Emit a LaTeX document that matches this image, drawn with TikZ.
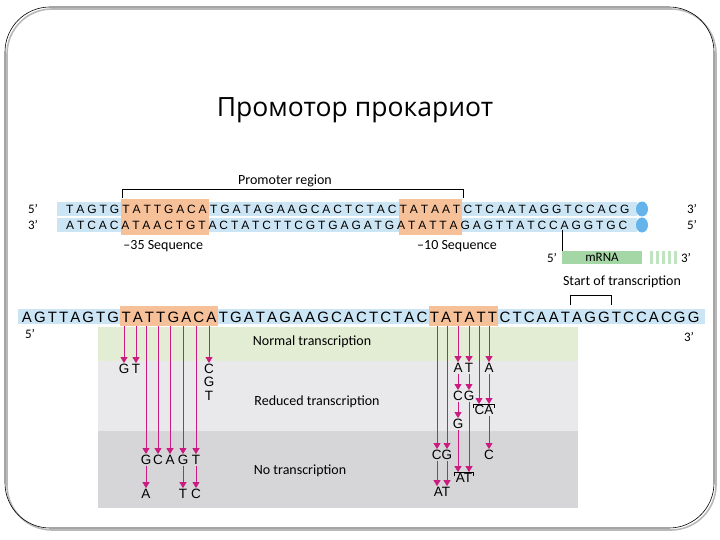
\documentclass[tikz,border=0pt]{standalone}
\usepackage{fontspec}
\setmainfont{Carlito}
\newfontfamily\dnafont{Liberation Sans}
\newfontfamily\headfont{Open Sans}
\usetikzlibrary{positioning,arrows.meta,backgrounds}

\definecolor{dnablue}{RGB}{203,229,245}
\definecolor{capblue}{RGB}{100,180,235}
\definecolor{hitorange}{RGB}{246,192,152}
\definecolor{mrnagreen}{RGB}{165,214,165}
\definecolor{stripgreen}{RGB}{192,228,192}
\definecolor{panelgreen}{RGB}{226,237,212}
\definecolor{panellight}{RGB}{233,233,235}
\definecolor{paneldark}{RGB}{214,214,216}
\definecolor{mutpink}{RGB}{204,27,128}

\newlength\seqgap
\def\seqloop#1{\ifx#1\relax\else#1\kern\seqgap\expandafter\seqloop\fi}
\newcommand\dnaseq[1]{\seqloop#1\relax}

\begin{document}
\begin{tikzpicture}[x=1pt,y=-1pt,
  strandtop/.style={font=\dnafont\fontsize{12}{14}\selectfont,inner sep=0pt,
                    anchor=base west,execute at begin node=\setlength\seqgap{2.9pt}},
  strandlow/.style={font=\dnafont\fontsize{15}{17}\selectfont,inner sep=0pt,
                    anchor=base west,execute at begin node=\setlength\seqgap{2.1pt}},
  lab/.style={font=\fontsize{14}{16}\selectfont,inner sep=1pt},
  prime/.style={font=\fontsize{13}{15}\selectfont,inner sep=1pt},
  nt/.style={font=\dnafont\fontsize{13.5}{15}\selectfont,inner sep=1pt},
  mut/.style={draw=mutpink,line width=0.8pt,-{Triangle[width=7pt,length=6pt]}},
  brk/.style={draw=black,line width=0.6pt},
]
  \useasboundingbox (0,0) rectangle (720,540);
  \draw[gray!55,line width=1.6pt,rounded corners=45pt] (7,9) rectangle (716,530);
  \draw[line width=0.6pt,rounded corners=45pt] (5,7) rectangle (714,528);

  \node[font=\headfont\fontsize{26.5}{30}\selectfont,anchor=base] (title) at (355,117) {Промотор прокариот};

  \node[strandtop] (s1a) at (66,213.3) {\dnaseq{TAGTG}};
  \node[strandtop] (s1b) at (s1a.base east) {\dnaseq{TATTGACA}};
  \node[strandtop] (s1c) at (s1b.base east) {\dnaseq{TGATAGAAGCACTCTAC}};
  \node[strandtop] (s1d) at (s1c.base east) {\dnaseq{TATAAT}};
  \node[strandtop] (s1e) at (s1d.base east) {\dnaseq{CTCAATAGGTCCACG}};
  \node[strandtop] (s2) at (66,229.3) {\dnaseq{ATCACATAACTGTACTATCTTCGTGAGATGATATTAGAGTTATCCAGGTGC}};

  \node[strandlow] (s3a) at (21.7,322.4) {\dnaseq{AGTTAGTG}};
  \node[strandlow] (s3b) at (s3a.base east) {\dnaseq{TATTGACA}};
  \node[strandlow] (s3c) at (s3b.base east) {\dnaseq{TGATAGAAGCACTCTAC}};
  \node[strandlow] (s3d) at (s3c.base east) {\dnaseq{TATATT}};
  \node[strandlow] (s3e) at (s3d.base east) {\dnaseq{CTCAATAGGTCCACGG}};

  \coordinate (hitup) at (0,199);
  \coordinate (hitdn) at (0,235);
  \coordinate (lowup) at (0,306);
  \coordinate (lowdn) at (0,326);
  \begin{scope}[on background layer]
    \fill[dnablue] (57,202) rectangle (637,216);
    \fill[dnablue] (57,218) rectangle (637,232);
    \fill[dnablue] (18,309) rectangle (705,324);
    \fill[hitorange] ([xshift=-1pt]s1b.west |- hitup) rectangle ([xshift=-1pt]s1b.east |- hitdn);
    \fill[hitorange] ([xshift=-1pt]s1d.west |- hitup) rectangle ([xshift=-1pt]s1d.east |- hitdn);
    \fill[hitorange] ([xshift=-1pt]s3b.west |- lowup) rectangle ([xshift=-1pt]s3b.east |- lowdn);
    \fill[hitorange] ([xshift=-1pt]s3d.west |- lowup) rectangle ([xshift=-1pt]s3d.east |- lowdn);
    \fill[capblue] (642,209) ellipse [x radius=6,y radius=7.5];
    \fill[capblue] (642,225) ellipse [x radius=6,y radius=7.5];
    \fill[panelgreen] (98,327) rectangle (578,361);
    \fill[panellight] (98,361) rectangle (578,431);
    \fill[paneldark] (98,431) rectangle (578,508);
  \end{scope}

  \node[prime] (p1) at (33,209) {5'};
  \node[prime] (p2) at (33,225) {3'};
  \node[prime] (p3) at (692,209) {3'};
  \node[prime] (p4) at (692,225) {5'};
  \node[prime] (p5) at (30,334) {5'};
  \node[prime] (p6) at (689,337) {3'};

  \coordinate (promy) at (0,189);
  \coordinate (promt) at (0,198);
  \draw[brk] (s1b.west |- promt) -- (s1b.west |- promy) -- (s1d.east |- promy) -- (s1d.east |- promt);
  \node[lab] (prom) at (285,181) {Promoter region};
  \node[lab,anchor=west] (m35) at (s1b.west |- 0,246) {--35 Sequence};
  \node[lab,anchor=west] (m10) at (416,246) {--10 Sequence};

  \node[fill=mrnagreen,minimum width=80pt,minimum height=13pt,inner sep=0pt,
        font=\fontsize{13}{15}\selectfont] (mrna) at (602,257.5) {mRNA};
  \foreach \x in {650,656,662,668,674}
    \fill[stripgreen] (\x,251) rectangle ++(3,13);
  \node[prime] (p7) at (552,257.5) {5'};
  \node[prime] (p8) at (686,257.5) {3'};
  \draw[brk] (mrna.north west) -- (mrna.north west |- s2.south);
  \node[lab] (start) at (622,282) {Start of transcription};
  \draw[brk] (570,305) |- (611,295) -- (611,305);

  \node[lab] (normal) at (312,342) {Normal transcription};
  \node[lab] (reduced) at (317,402) {Reduced transcription};
  \node[lab] (none) at (300,471) {No transcription};

  \foreach \x [count=\i] in {124,136,146,158,170,183,196,209}
    \coordinate (L\i) at (\x,326);
  \foreach \x [count=\i] in {437,447,458,469,479,489}
    \coordinate (R\i) at (\x,326);

  \node[nt] (g1) at (124,369) {G};
  \node[nt] (t1) at (136,369) {T};
  \node[nt] (c1) at (209,369) {C};
  \node[nt] (g2) at (209,382) {G};
  \node[nt] (t2) at (209,396) {T};
  \node[nt] (g3) at (146,460) {G};
  \node[nt] (c2) at (158,460) {C};
  \node[nt] (a1) at (170,460) {A};
  \node[nt] (g4) at (183,460) {G};
  \node[nt] (t3) at (196,460) {T};
  \node[nt] (a2) at (146,494) {A};
  \node[nt] (t4) at (183,494) {T};
  \node[nt] (c3) at (196,494) {C};

  \node[nt] (a3) at (458,368) {A};
  \node[nt] (t5) at (469,368) {T};
  \node[nt] (a4) at (489,368) {A};
  \node[nt] (c4) at (458,396) {C};
  \node[nt] (g5) at (469,396) {G};
  \node[nt] (ca) at (484,410) {CA};
  \node[nt] (g6) at (458,424) {G};
  \node[nt] (cg) at (442,455) {CG};
  \node[nt] (c6) at (489,455) {C};
  \node[nt] (at1) at (464,478) {AT};
  \node[nt] (at2) at (442,492) {AT};

  \draw[brk,line width=0.4pt] ([shift={(0,4)}]ca.north west) -- (ca.north west) -- (ca.north east) -- ([shift={(0,4)}]ca.north east);
  \draw[brk,line width=0.4pt] ([shift={(0,4)}]at1.north west) -- (at1.north west) -- (at1.north east) -- ([shift={(0,4)}]at1.north east);

  \foreach \a/\b in {L1/g1,L2/t1,L8/c1,L3/g3,L4/c2,L5/a1,L6/g4,L7/t3,g3/a2,g4/t4,t3/c3,
                     R3/a3,R4/t5,R6/a4,a3/c4,t5/g5,c4/g6}
    \draw[mut] (\a) -- (\b);
  \draw[mut] (R1) -- (R1 |- cg.north);
  \draw[mut] (R2) -- (R2 |- cg.north);
  \draw[mut] (R5) -- (R5 |- ca.north);
  \draw[mut] (a4) -- (a4 |- ca.north);
  \draw[mut] (c6 |- ca.south) -- (c6);
  \draw[mut] (g6) -- (g6 |- at1.north);
  \draw[mut] (g5) -- (g5 |- at1.north);
  \draw[mut] (R1 |- cg.south) -- (R1 |- at2.north);
  \draw[mut] (R2 |- cg.south) -- (R2 |- at2.north);
\end{tikzpicture}
\end{document}
